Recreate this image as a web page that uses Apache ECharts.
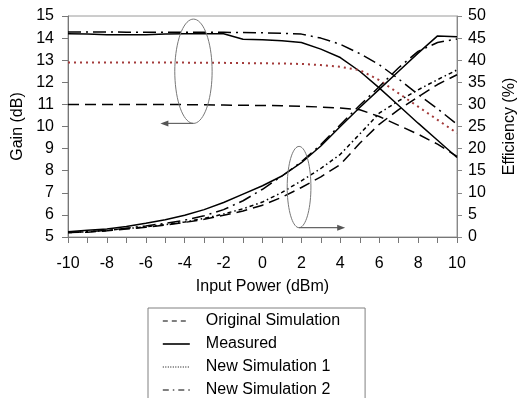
<!DOCTYPE html>
<html>
<head>
<meta charset="utf-8">
<script src="https://cdn.jsdelivr.net/npm/echarts@6/dist/echarts.min.js"></script>
<style>
html,body{margin:0;padding:0;background:#fff;}
#chart{width:526px;height:398px;}
</style>
</head>
<body>
<div id="chart"></div>
<script>
// ---- data ----
const powerDbm = [-10,-9,-8,-7,-6,-5,-4,-3,-2,-1,0,1,2,3,4,5,6,7,8,9,10];
const seriesNames = ['Original Simulation','Measured','New Simulation 1','New Simulation 2'];

const gainOriginal = [11.0,11.0,11.0,11.0,11.0,11.0,10.99,10.98,10.97,10.96,10.95,10.94,10.92,10.88,10.84,10.76,10.45,10.05,9.65,9.2,8.65];
const gainMeasured = [14.2,14.18,14.15,14.15,14.15,14.18,14.2,14.2,14.2,13.95,13.93,13.88,13.8,13.5,13.12,12.5,11.75,10.95,10.15,9.38,8.6];
const gainNewSim1 = [12.9,12.9,12.9,12.9,12.9,12.9,12.89,12.89,12.88,12.87,12.86,12.85,12.83,12.78,12.7,12.55,12.1,11.5,10.9,10.3,9.7];
const gainNewSim2 = [14.28,14.28,14.28,14.27,14.27,14.27,14.27,14.27,14.26,14.25,14.24,14.22,14.18,14.0,13.72,13.3,12.8,12.15,11.45,10.8,10.1];

const effOriginal = [1.0,1.1,1.4,1.8,2.2,2.7,3.3,4.0,4.9,5.9,7.2,9.0,11.2,13.6,16.4,21.2,25.5,28.8,31.7,34.5,36.7];
const effMeasured = [1.2,1.5,1.8,2.4,3.1,3.9,4.9,6.2,7.8,9.7,11.6,13.8,16.8,20.6,25.0,29.3,33.4,37.5,41.6,45.5,45.3];
const effNewSim1 = [1.0,1.2,1.5,1.9,2.3,2.8,3.4,4.2,5.2,6.4,7.9,10.1,12.7,15.5,18.7,23.3,28.0,30.8,33.3,35.6,37.8];
const effNewSim2 = [1.0,1.2,1.5,2.0,2.5,3.1,3.8,4.8,6.2,8.2,10.8,13.8,17.0,20.9,25.4,29.8,34.0,38.3,42.0,44.0,44.8];

const gainTicks = [5,15,1];
const effTicks = [0,50,5];
const powerTicks = [-10,10,1];

// annotation positions in data units: [centerX, centerY, radiusX, radiusY, arrowEndX]
const gainNote = [-3.55, 12.5, 0.96, 2.36, -5.25];
const effNote = [1.88, 11.3, 0.61, 9.2, 4.25];

// ---- chart ----
const FONT = "'Liberation Sans', Arial, sans-serif";
const pair = (xs, ys) => xs.map((x, i) => [x, ys[i]]);
const styles = {
  'Original Simulation': {type: [11, 6], color: '#000', width: 1.5},
  'Measured': {type: 'solid', color: '#000', width: 1.5},
  'New Simulation 1': {type: [1.5, 2.5], color: '#000', width: 1.5},
  'New Simulation 2': {type: [13, 5, 2, 5], color: '#000', width: 1.5}
};
const legendDash = {
  'Original Simulation': [5, 4],
  'Measured': 'solid',
  'New Simulation 1': [1, 1.5],
  'New Simulation 2': [6, 4, 1.5, 4]
};
const mk = (name, ys, axis, override) => ({
  name, type: 'line', yAxisIndex: axis, data: pair(powerDbm, ys),
  symbol: 'none', showSymbol: false, animation: false, z: 3,
  lineStyle: Object.assign({}, styles[name], override || {}),
  itemStyle: {color: (override && override.color) || '#000'}
});

const chart = echarts.init(document.getElementById('chart'), null, {renderer: 'canvas'});
chart.setOption({
  animation: false,
  textStyle: {fontFamily: FONT},
  grid: {left: 68, right: 64, top: 16, bottom: 161, show: true, borderColor: '#9a9a9a', borderWidth: 1, containLabel: false},
  xAxis: {
    type: 'value', min: powerTicks[0], max: powerTicks[1], interval: powerTicks[2],
    name: 'Input Power (dBm)', nameLocation: 'middle', nameGap: 42,
    nameTextStyle: {fontSize: 16, color: '#000', fontFamily: FONT},
    axisLine: {onZero: false, lineStyle: {color: '#777', width: 1}},
    axisTick: {show: true, inside: false, length: 6, lineStyle: {color: '#777'}},
    axisLabel: {fontSize: 16, color: '#000', margin: 19, fontFamily: FONT,
      formatter: v => (Math.round(v) % 2 === 0 ? String(v) : '')},
    splitLine: {show: false}
  },
  yAxis: [{
    type: 'value', min: gainTicks[0], max: gainTicks[1], interval: gainTicks[2], position: 'left',
    name: 'Gain (dB)', nameLocation: 'middle', nameGap: 41, nameRotate: 90,
    nameTextStyle: {fontSize: 16, color: '#000', fontFamily: FONT},
    axisLine: {show: true, onZero: false, lineStyle: {color: '#777', width: 1}},
    axisTick: {show: true, inside: false, length: 6, lineStyle: {color: '#777'}},
    axisLabel: {fontSize: 16, color: '#000', margin: 14, fontFamily: FONT},
    splitLine: {show: false}
  }, {
    type: 'value', min: effTicks[0], max: effTicks[1], interval: effTicks[2], position: 'right',
    name: 'Efficiency (%)', nameLocation: 'middle', nameGap: 45, nameRotate: 90,
    nameTextStyle: {fontSize: 16, color: '#000', fontFamily: FONT},
    axisLine: {show: true, onZero: false, lineStyle: {color: '#888', width: 1}},
    axisTick: {show: true, inside: false, length: 5, lineStyle: {color: '#888'}},
    axisLabel: {fontSize: 16, color: '#000', margin: 11, fontFamily: FONT},
    splitLine: {show: false}
  }],
  legend: {
    orient: 'vertical', left: 148, top: 308, height: 110,
    padding: [5, 25, 5, 14], itemGap: 7, itemWidth: 27, itemHeight: 14,
    borderColor: '#808080', borderWidth: 1, backgroundColor: '#fff',
    textStyle: {fontSize: 16, color: '#000', fontFamily: FONT, padding: [0, 0, 0, 11]},
    selectedMode: false,
    data: seriesNames.map(n => ({name: n,
      lineStyle: Object.assign({}, styles[n], {width: n === 'Measured' ? 1.6 : 1, type: legendDash[n]}),
      itemStyle: {color: '#000', opacity: 0}}))
  },
  series: [
    mk('Original Simulation', gainOriginal, 0),
    mk('Measured', gainMeasured, 0),
    mk('New Simulation 1', gainNewSim1, 0, {color: '#a33a3a', type: [2, 4], width: 2}),
    mk('New Simulation 2', gainNewSim2, 0),
    mk('Original Simulation', effOriginal, 1),
    mk('Measured', effMeasured, 1),
    mk('New Simulation 1', effNewSim1, 1, {type: [4, 3, 1.5, 3]}),
    mk('New Simulation 2', effNewSim2, 1)
  ]
});

function noteGraphics(note, yAxisIndex, dir) {
  const px = v => chart.convertToPixel({xAxisIndex: 0}, v);
  const py = v => chart.convertToPixel({yAxisIndex: yAxisIndex}, v);
  const cx = px(note[0]), cy = py(note[1]);
  const rx = Math.abs(px(note[0] + note[2]) - cx);
  const ry = Math.abs(py(note[1] + note[3]) - cy);
  const pts = [];
  for (let i = 0; i < 72; i++) {
    const a = i / 72 * Math.PI * 2;
    pts.push([cx + rx * Math.cos(a), cy + ry * Math.sin(a)]);
  }
  const by = cy + ry;
  const ex = px(note[4]);
  const head = dir < 0
    ? [[ex, by], [ex + 8, by - 3], [ex + 8, by + 3]]
    : [[ex, by], [ex - 8, by - 3], [ex - 8, by + 3]];
  return [
    {type: 'polygon', shape: {points: pts}, style: {fill: 'none', stroke: '#777', lineWidth: 1}, z: 10},
    {type: 'line', shape: {x1: cx, y1: by, x2: ex + (dir < 0 ? 6 : -6), y2: by}, style: {stroke: '#666', lineWidth: 1.2}, z: 10},
    {type: 'polygon', shape: {points: head}, style: {fill: '#555'}, z: 10}
  ];
}
chart.setOption({graphic: {elements: [].concat(noteGraphics(gainNote, 0, -1), noteGraphics(effNote, 1, 1))}});
</script>
</body>
</html>
